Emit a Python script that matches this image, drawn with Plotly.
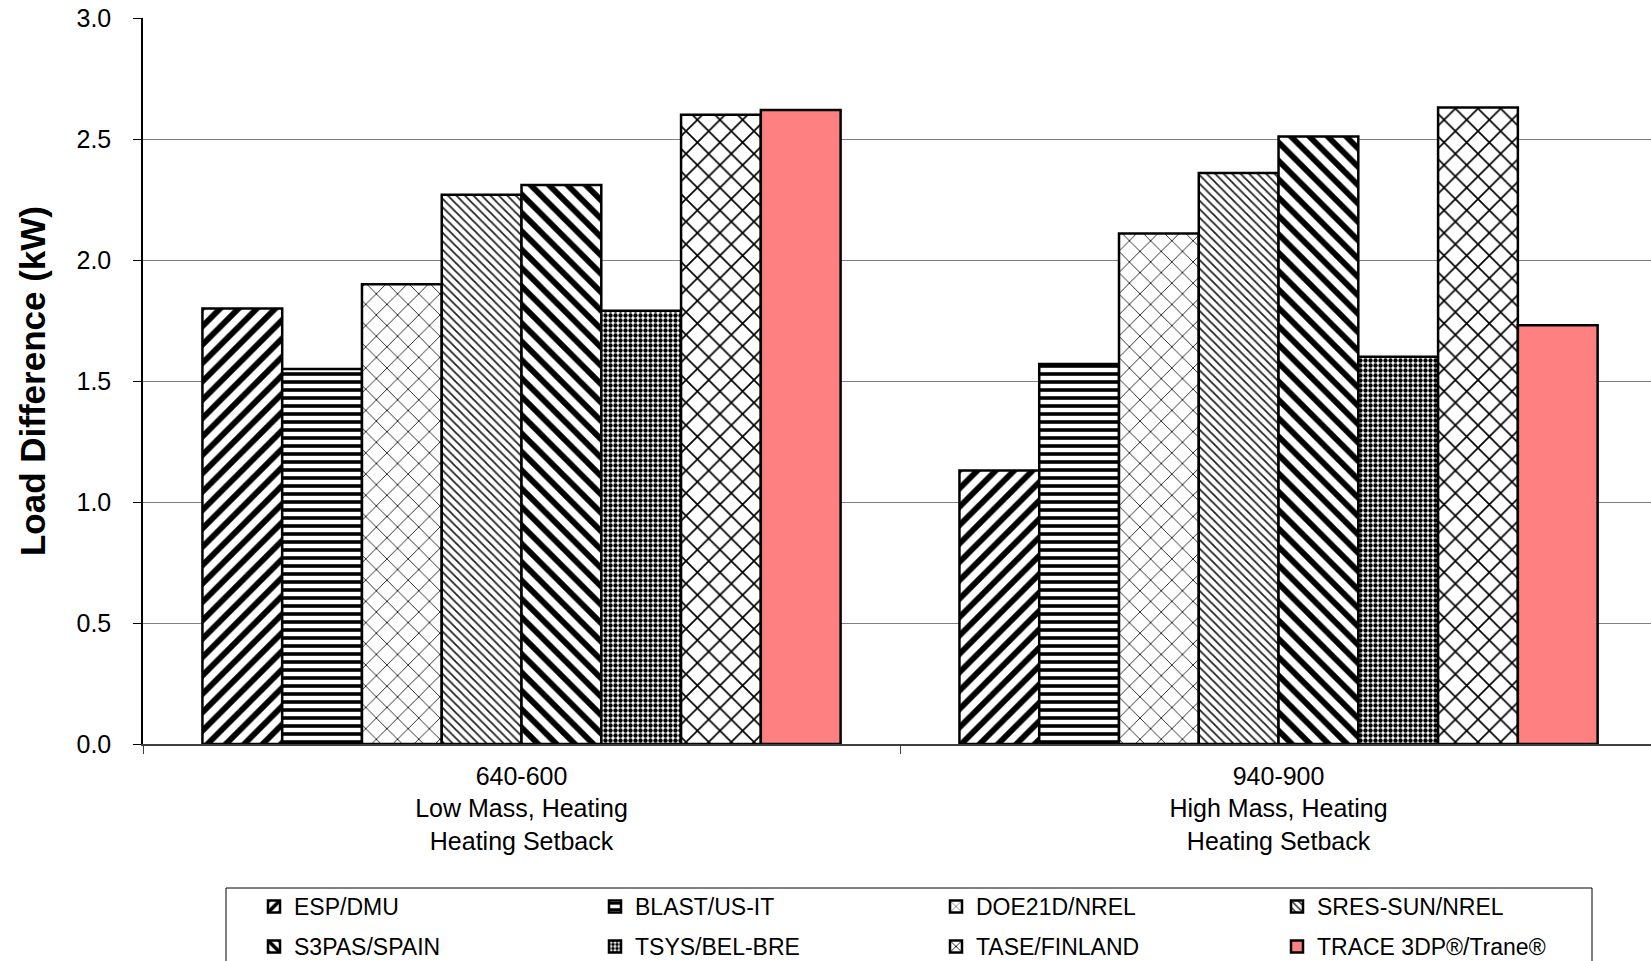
import plotly.graph_objects as go

categories = ["640-600<br>Low Mass, Heating<br>Heating Setback",
              "940-900<br>High Mass, Heating<br>Heating Setback"]
series_names = ["ESP/DMU", "BLAST/US-IT", "DOE21D/NREL", "SRES-SUN/NREL",
                "S3PAS/SPAIN", "TSYS/BEL-BRE", "TASE/FINLAND", "TRACE 3DP®/Trane®"]
esp_dmu = [1.80, 1.13]
blast_us_it = [1.55, 1.57]
doe21d_nrel = [1.90, 2.11]
sres_sun_nrel = [2.27, 2.36]
s3pas_spain = [2.31, 2.51]
tsys_bel_bre = [1.79, 1.60]
tase_finland = [2.60, 2.63]
trace_trane = [2.62, 1.73]
y_ticks = [0.0, 0.5, 1.0, 1.5, 2.0, 2.5, 3.0]

series_values = [esp_dmu, blast_us_it, doe21d_nrel, sres_sun_nrel,
                 s3pas_spain, tsys_bel_bre, tase_finland, trace_trane]

patterns = [
    dict(shape="/", size=13, solidity=0.45, fgcolor="black"),
    dict(shape="-", size=8, solidity=0.45, fgcolor="black"),
    dict(shape="x", size=15, solidity=0.12, fgcolor="#222222"),
    dict(shape="\\", size=6, solidity=0.3, fgcolor="#222222"),
    dict(shape="\\", size=13, solidity=0.45, fgcolor="black"),
    dict(shape=".", size=5, solidity=0.6, fgcolor="black"),
    dict(shape="x", size=16, solidity=0.2, fgcolor="black"),
    None,
]

# pixel geometry helpers (figure 1651x961)
W, H = 1651, 961
ML, MR, MT, MB = 143, 0, 18, 217
PW, PH = W - ML - MR, H - MT - MB
def px_x(p):
    return (p - ML) / PW
def px_y(p):
    return (H - MB - p) / PH

fig = go.Figure()
for i, (name, vals, pat) in enumerate(zip(series_names, series_values, patterns)):
    marker = dict(color="white", line=dict(color="black", width=2.5))
    if pat is None:
        marker["color"] = "#FF8080"
    else:
        p = dict(pat)
        p.update(bgcolor="white", fgopacity=1, fillmode="replace")
        marker["pattern"] = p
    fig.add_trace(go.Bar(name=name, x=categories, y=vals, marker=marker,
                         legend="legend" if i < 4 else "legend2"))

font_family = "Liberation Sans, Arial, sans-serif"
legend_common = dict(orientation="h", xanchor="left", yanchor="top",
                     borderwidth=0, bgcolor="rgba(0,0,0,0)",
                     font=dict(size=23, family=font_family, color="black"),
                     entrywidth=296, entrywidthmode="pixels", traceorder="normal")
fig.update_layout(
    width=W, height=H,
    margin=dict(l=ML, r=MR, t=MT, b=MB, autoexpand=False),
    paper_bgcolor="white", plot_bgcolor="white",
    barmode="group", bargap=0.157, bargroupgap=0,
    font=dict(family=font_family, color="black", size=24),
    showlegend=True,
    legend=dict(x=px_x(254), y=px_y(885), **legend_common),
    legend2=dict(x=px_x(254), y=px_y(925), **legend_common),
    shapes=[dict(type="rect", xref="paper", yref="paper",
                 x0=px_x(226), x1=px_x(1592), y0=px_y(888), y1=px_y(985),
                 line=dict(color="black", width=1), fillcolor="rgba(0,0,0,0)",
                 layer="below")],
)
fig.update_xaxes(
    type="category", range=[-0.5, 1.492], automargin=False,
    showline=True, linecolor="#404040", linewidth=1.5,
    ticks="outside", ticklen=8, tickcolor="#404040", tickson="boundaries",
    ticklabelstandoff=9,
    tickfont=dict(size=25), showgrid=False,
)
fig.update_yaxes(
    range=[0, 3.0], tickvals=y_ticks, ticktext=[f"{v:.1f}" for v in y_ticks],
    automargin=False,
    showline=True, linecolor="black", linewidth=1.5,
    ticks="outside", ticklen=8, tickcolor="black", ticklabelstandoff=17,
    showgrid=True, gridcolor="#808080", gridwidth=1,
    tickfont=dict(size=25),
    title=dict(text="<b>Load Difference (kW)</b>", font=dict(size=35), standoff=20),
    zeroline=False,
)
fig.write_html("out.html",
               config={"displayModeBar": False},
               post_script="document.body.style.margin='0px';document.body.style.overflow='hidden';")
